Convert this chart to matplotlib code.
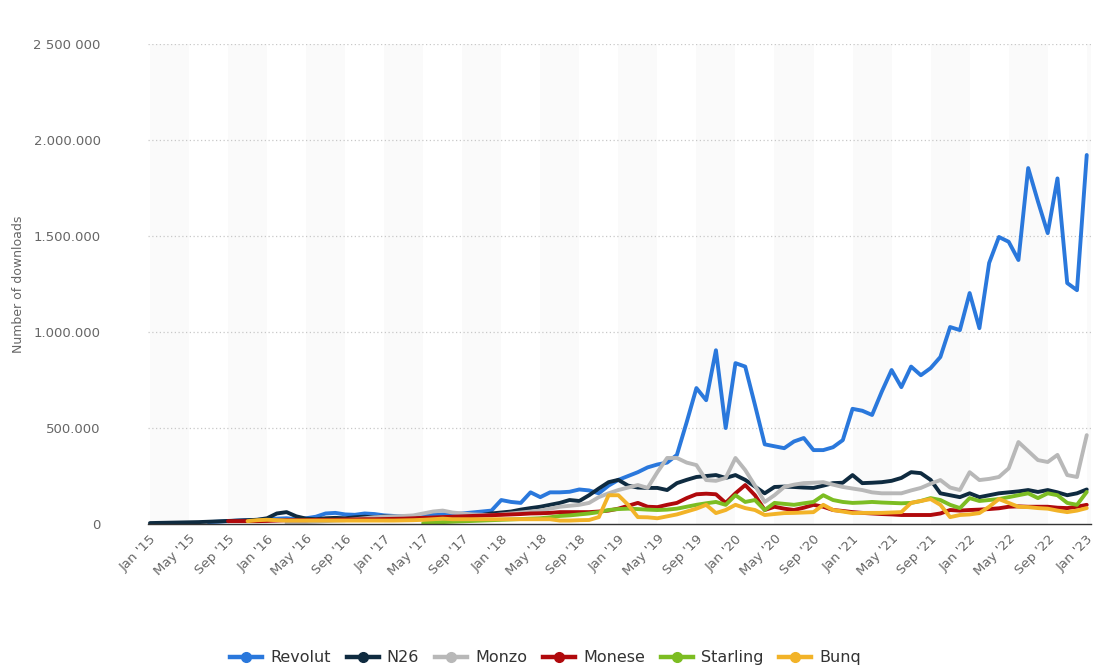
import matplotlib
matplotlib.use("Agg")
import matplotlib.pyplot as plt
import numpy as np

plt.rcParams['font.family'] = ['DejaVu Sans']

# months Jan '15 .. Jan '23
month_count = 97
tick_labels = ["Jan '15", "May '15", "Sep '15", "Jan '16", "May '16", "Sep '16",
               "Jan '17", "May '17", "Sep '17", "Jan '18", "May '18", "Sep '18",
               "Jan '19", "May '19", "Sep '19", "Jan '20", "May '20", "Sep '20",
               "Jan '21", "May '21", "Sep '21", "Jan '22", "May '22", "Sep '22",
               "Jan '23"]

# downloads in thousands, (start month index, values)
revolut_start = 6
revolut = [10, 12, 15, 18, 20, 22, 25, 28, 30, 25, 30, 38, 55, 58, 50, 48, 55, 52,
           45, 42, 40, 42, 45, 48, 50, 52, 55, 60, 65, 70, 125, 115, 110, 165, 140,
           165, 165, 168, 180, 175, 160, 200, 230, 250, 270, 295, 310, 320, 360, 530,
           708, 645, 905, 500, 838, 820, 620, 415, 405, 395, 430, 448, 385, 385, 400,
           437, 600, 590, 568, 690, 802, 713, 820, 775, 812, 870, 1026, 1010, 1203,
           1020, 1360, 1495, 1470, 1375, 1854, 1680, 1515, 1800, 1255, 1218, 1922]

n26_start = 0
n26 = [5, 6, 7, 8, 9, 10, 12, 14, 16, 18, 20, 22, 30, 55, 62, 40, 28, 25, 30, 32,
       30, 35, 38, 35, 40, 38, 35, 32, 30, 30, 32, 35, 40, 45, 47, 55, 60, 65, 75,
       83, 90, 100, 110, 125, 120, 150, 185, 218, 230, 200, 190, 188, 188, 177, 213,
       230, 245, 250, 255, 240, 255, 230, 195, 160, 193, 195, 193, 190, 188, 200,
       213, 215, 255, 213, 215, 218, 225, 240, 270, 265, 230, 160, 150, 140, 160,
       140, 150, 160, 165, 170, 177, 167, 177, 165, 150, 160, 180]

monzo_start = 14
monzo = [5, 8, 10, 12, 15, 18, 20, 25, 30, 35, 38, 40, 42, 45, 55, 65, 70, 60, 55,
         50, 48, 45, 50, 55, 60, 65, 70, 80, 90, 95, 100, 110, 140, 160, 177, 190,
         203, 188, 270, 344, 344, 320, 307, 229, 225, 240, 344, 281, 200, 115, 150,
         193, 205, 213, 215, 218, 205, 193, 185, 177, 165, 160, 160, 160, 175, 188,
         210, 229, 190, 177, 270, 229, 235, 245, 290, 427, 380, 333, 323, 360, 255,
         245, 463]

monese_start = 8
monese = [15, 15, 15, 15, 16, 18, 20, 20, 20, 22, 22, 22, 24, 24, 25, 25, 26, 27,
          28, 30, 32, 34, 36, 38, 40, 42, 44, 46, 48, 50, 52, 55, 56, 58, 62, 62, 62,
          62, 65, 70, 80, 95, 110, 90, 88, 100, 110, 135, 155, 158, 155, 110, 160,
          203, 150, 73, 90, 80, 73, 85, 100, 90, 73, 68, 62, 58, 55, 52, 50, 47, 47,
          47, 47, 55, 73, 70, 73, 75, 78, 82, 90, 92, 90, 90, 90, 85, 83, 90, 100]

starling_start = 28
starling = [5, 8, 10, 12, 14, 16, 18, 20, 22, 24, 26, 28, 30, 35, 42, 45, 50, 55, 62,
            73, 78, 80, 78, 75, 73, 75, 80, 90, 100, 108, 115, 100, 150, 115, 125, 73,
            110, 105, 100, 108, 115, 150, 125, 115, 110, 112, 115, 112, 110, 108, 110,
            120, 135, 125, 100, 83, 135, 120, 125, 130, 140, 150, 160, 135, 160, 150,
            110, 100, 167]

bunq_start = 10
bunq = [15, 20, 22, 20, 18, 18, 18, 18, 18, 18, 18, 18, 18, 18, 18, 18, 19, 20, 22,
        25, 28, 25, 25, 25, 25, 25, 25, 25, 25, 25, 25, 25, 18, 18, 20, 21, 36, 150,
        150, 100, 36, 35, 30, 40, 50, 65, 80, 100, 57, 73, 100, 83, 73, 47, 52, 57,
        58, 60, 62, 100, 73, 65, 57, 58, 58, 58, 60, 62, 110, 120, 130, 100, 36, 47,
        50, 57, 90, 130, 110, 90, 88, 83, 80, 70, 62, 70, 83]

series = [
    ("Revolut", revolut_start, revolut, "#2a78dc"),
    ("N26", n26_start, n26, "#0f2b40"),
    ("Monzo", monzo_start, monzo, "#b8b8b8"),
    ("Monese", monese_start, monese, "#b0090c"),
    ("Starling", starling_start, starling, "#7cbd22"),
    ("Bunq", bunq_start, bunq, "#f2b328"),
]

fig = plt.figure(figsize=(10.98, 6.69), dpi=100)
ax = fig.add_axes([0.1348, 0.2167, 0.8585, 0.7175])

# alternating bands every 4 months
for b in range(0, month_count + 4, 8):
    ax.axvspan(b, b + 4, color='#fafafa', zorder=0, lw=0)

for y in [500000, 1000000, 1500000, 2000000, 2500000]:
    ax.axhline(y, color='#c8c8c8', lw=0.9, ls=(0, (1, 2)), zorder=1)

for name, start, vals, col in series:
    x = np.arange(start, start + len(vals))
    ax.plot(x, np.array(vals) * 1000, color=col, lw=2.8, solid_joinstyle='round',
            solid_capstyle='round', label=name, zorder=3)

ax.set_xlim(-0.2, 96.4)
ax.set_ylim(0, 2500000)
ax.set_xticks(np.arange(0, month_count, 4))
ax.set_xticklabels(tick_labels, rotation=45, ha='right', rotation_mode='anchor',
                   fontsize=9.5, color='#666666')
ax.set_yticks([0, 500000, 1000000, 1500000, 2000000, 2500000])
ax.set_yticklabels(['0', '500.000', '1.000.000', '1.500.000', '2.000.000', '2 500 000'],
                   fontsize=9.5, color='#666666')
ax.tick_params(axis='x', length=0, pad=6)
ax.tick_params(axis='y', length=0, pad=34)
for s in ['top', 'right', 'left']:
    ax.spines[s].set_visible(False)
ax.spines['bottom'].set_color('#333333')
ax.spines['bottom'].set_linewidth(1.0)
ax.spines['bottom'].set_zorder(4)

fig.text(0.017, 0.575, 'Number of downloads', rotation=90, ha='center', va='center',
         fontsize=9, color='#666666')

handles = [plt.Line2D([0], [0], color=col, lw=3.2, marker='o', markersize=7)
           for _, _, _, col in series]
fig.legend(handles, [s[0] for s in series], loc='center', bbox_to_anchor=(0.497, 0.017),
           ncol=6, frameon=False, fontsize=11.5, handlelength=2.0, columnspacing=1.0,
           handletextpad=0.5, labelcolor='#333333')

fig.savefig('out.png', dpi=100, facecolor='white')
